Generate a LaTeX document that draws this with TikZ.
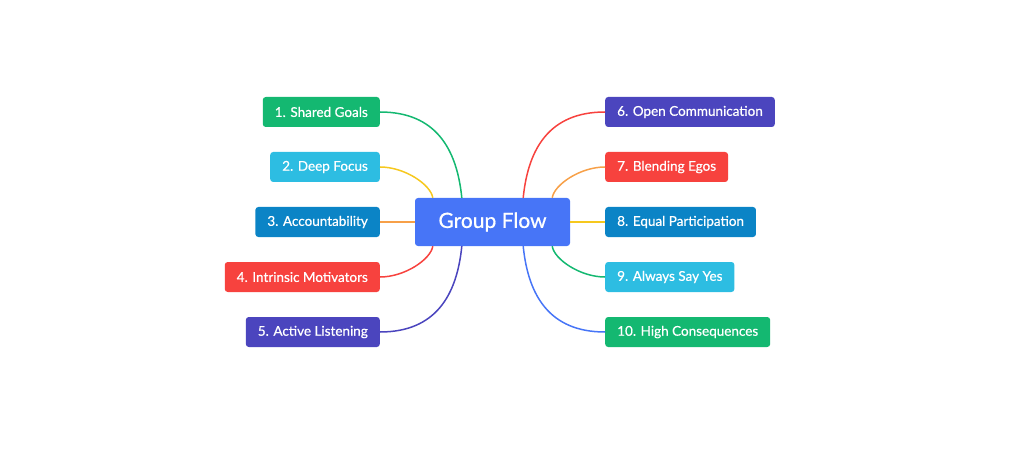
\documentclass[tikz,border=0pt]{standalone}
\usepackage{fontspec}
\setmainfont{Lato}
\newfontfamily\tagfont{Lato}[FakeBold=0.6]
\usetikzlibrary{calc}
\definecolor{hubblue}{HTML}{4775F7}
\definecolor{mintgreen}{HTML}{14B871}
\definecolor{skycyan}{HTML}{2DBDE2}
\definecolor{deepblue}{HTML}{0B84C6}
\definecolor{coralred}{HTML}{F7423E}
\definecolor{indigo}{HTML}{4B45BE}
\definecolor{sunyellow}{HTML}{F6C81E}
\definecolor{peach}{HTML}{F7A048}
\tikzset{
  hub/.style={rectangle,rounded corners=3pt,fill=hubblue,text=white,minimum width=155pt,minimum height=48pt,font=\tagfont\fontsize{21}{25}\selectfont},
  topic/.style={rectangle,rounded corners=3pt,fill=#1,text=white,minimum height=30pt,inner xsep=12pt,font=\tagfont\fontsize{13.5}{16}\selectfont},
  link/.style={draw=#1,line width=1.5pt}
}
\begin{document}
\begin{tikzpicture}[x=1pt,y=-1pt]
  \useasboundingbox (0,0) rectangle (1024,462);
  \node[hub] (flow) at (492.5,222) {Group Flow};
  \coordinate (tl1) at ([xshift=47pt]flow.north west);
  \coordinate (tl2) at ([xshift=18pt]flow.north west);
  \coordinate (bl1) at ([xshift=47pt]flow.south west);
  \coordinate (bl2) at ([xshift=18pt]flow.south west);
  \coordinate (tr1) at ([xshift=-47pt]flow.north east);
  \coordinate (tr2) at ([xshift=-18pt]flow.north east);
  \coordinate (br1) at ([xshift=-47pt]flow.south east);
  \coordinate (br2) at ([xshift=-18pt]flow.south east);

  % left side
  \node[topic=mintgreen,anchor=east] (goals) at (380,112) {1. Shared Goals};
  \node[topic=skycyan,anchor=east] (focus) at (380,167) {2. Deep Focus};
  \node[topic=deepblue,anchor=east] (account) at (380,222) {3. Accountability};
  \node[topic=coralred,anchor=east] (motiv) at (380,277) {4. Intrinsic Motivators};
  \node[topic=indigo,anchor=east] (listen) at (380,332) {5. Active Listening};

  % right side
  \node[topic=indigo,anchor=west] (comm) at (605,112) {6. Open Communication};
  \node[topic=coralred,anchor=west] (egos) at (605,167) {7. Blending Egos};
  \node[topic=deepblue,anchor=west] (equal) at (605,222) {8. Equal Participation};
  \node[topic=skycyan,anchor=west] (yes) at (605,277) {9. Always Say Yes};
  \node[topic=mintgreen,anchor=west] (conseq) at (605,332) {10. High Consequences};

  \draw[link=mintgreen] (goals.east) .. controls ($(goals.east)+(55,0)$) and ($(tl1)+(-5,-50)$) .. (tl1);
  \draw[link=sunyellow] (focus.east) .. controls ($(focus.east)+(25,0)$) and ($(tl2)+(-2,-13)$) .. (tl2);
  \draw[link=peach] (account.east) -- (flow.west);
  \draw[link=coralred] (motiv.east) .. controls ($(motiv.east)+(25,0)$) and ($(bl2)+(-2,13)$) .. (bl2);
  \draw[link=indigo] (listen.east) .. controls ($(listen.east)+(55,0)$) and ($(bl1)+(-5,50)$) .. (bl1);

  \draw[link=coralred] (comm.west) .. controls ($(comm.west)+(-55,0)$) and ($(tr1)+(5,-50)$) .. (tr1);
  \draw[link=peach] (egos.west) .. controls ($(egos.west)+(-25,0)$) and ($(tr2)+(2,-13)$) .. (tr2);
  \draw[link=sunyellow] (equal.west) -- (flow.east);
  \draw[link=mintgreen] (yes.west) .. controls ($(yes.west)+(-25,0)$) and ($(br2)+(2,13)$) .. (br2);
  \draw[link=hubblue] (conseq.west) .. controls ($(conseq.west)+(-55,0)$) and ($(br1)+(5,50)$) .. (br1);
\end{tikzpicture}
\end{document}
